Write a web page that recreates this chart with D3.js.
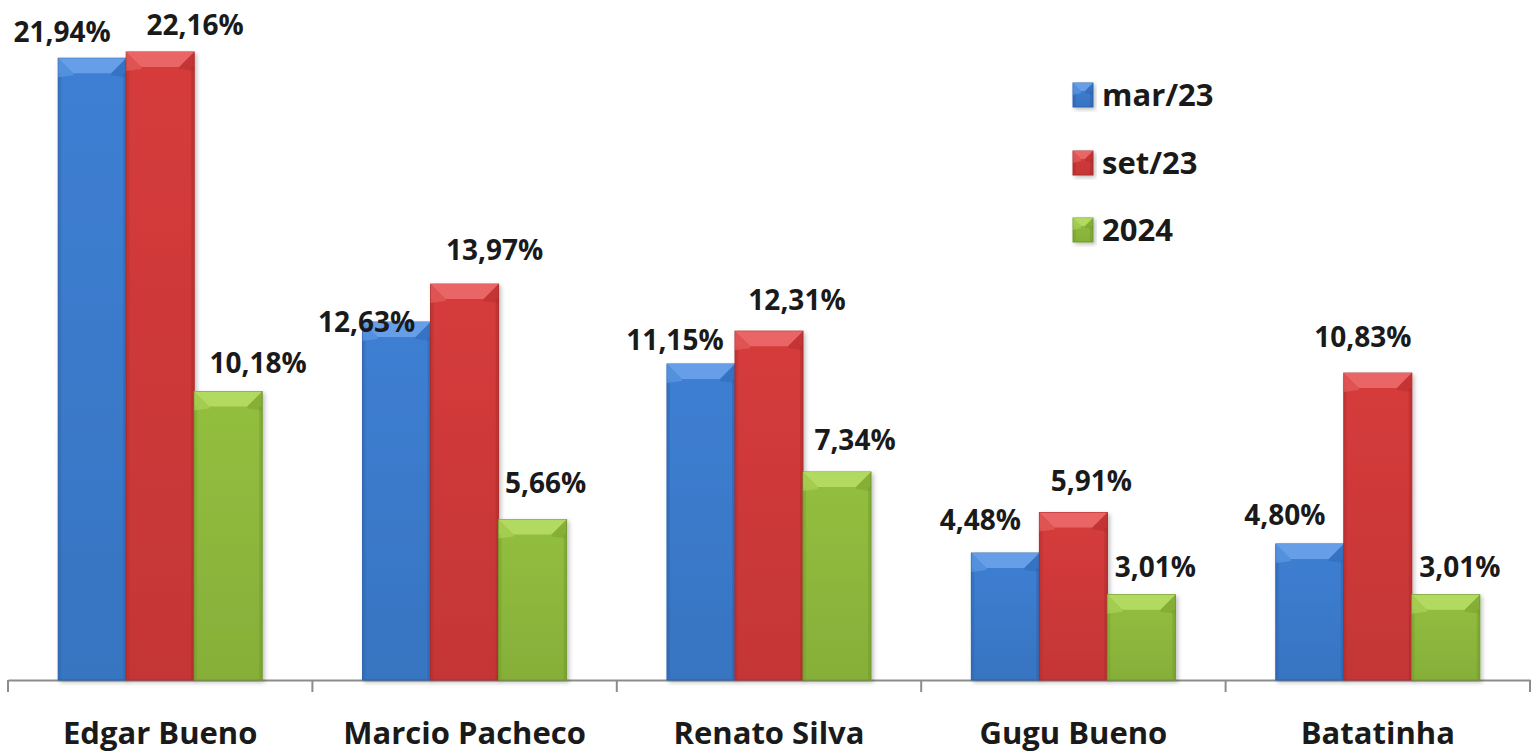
<!DOCTYPE html>
<html>
<head>
<meta charset="utf-8">
<script src="https://cdn.jsdelivr.net/npm/d3@7"></script>
<style>
  body { margin: 0; background: #fff; }
  svg { display: block; font-family: "Open Sans", sans-serif; font-weight: bold; }
</style>
</head>
<body>
<div id="chart"></div>
<script>
// values
const categories = ["Edgar Bueno", "Marcio Pacheco", "Renato Silva", "Gugu Bueno", "Batatinha"];
const seriesNames = ["mar/23", "set/23", "2024"];
const mar23 = [21.94, 12.63, 11.15, 4.48, 4.80];
const set23 = [22.16, 13.97, 12.31, 5.91, 10.83];
const y2024 = [10.18, 5.66, 7.34, 3.01, 3.01];

const colors = ["#3d7fd3", "#d63b3b", "#93bf3e"];
const darkColors = ["#2a62ad", "#ad2b2b", "#72992c"];
const lightColors = ["#6aa3ea", "#ec6b6b", "#b6dc64"];

// manual label nudges (dx, dy of text centre from bar top centre), like the original
const labelShift = [
    [[-30, -26], [35, -27], [30, -29]],
    [[-30, 0], [30, -34], [13, -37]],
    [[-26, -24], [28, -31], [18, -32]],
    [[-25, -33], [18, -32], [14, -28]],
    [[-25, -29], [-15, -36], [14, -28]]
];

const pageWidth = 1532;
const pageHeight = 756;
const baseY = 680;

const allValues = [mar23, set23, y2024];
const data = categories.map((c, i) => ({
    cat: c,
    vals: seriesNames.map((s, j) => ({ s: s, j: j, i: i, v: allValues[j][i] }))
}));

const fmt = v => d3.format(".2f")(v).replace(".", ",") + "%";

const svg = d3.select("#chart").append("svg")
    .attr("width", pageWidth)
    .attr("height", pageHeight);

const defs = svg.append("defs");
colors.forEach((c, j) => {
    const g = defs.append("linearGradient")
        .attr("id", "grad" + j)
        .attr("x1", 0).attr("y1", 0).attr("x2", 0).attr("y2", 1);
    g.append("stop").attr("offset", "0%").attr("stop-color", c);
    g.append("stop").attr("offset", "100%").attr("stop-color", d3.color(c).darker(0.25));
});
const shadow = defs.append("filter").attr("id", "shadow")
    .attr("x", "-10%").attr("y", "-10%").attr("width", "130%").attr("height", "130%");
shadow.append("feDropShadow")
    .attr("dx", 2).attr("dy", 2).attr("stdDeviation", 2)
    .attr("flood-color", "#000").attr("flood-opacity", 0.25);

const x0 = d3.scaleBand()
    .domain(categories)
    .range([8, 1530]);

const x1 = d3.scaleBand()
    .domain(seriesNames)
    .range([0, x0.bandwidth()])
    .paddingOuter(0.738);

const y = d3.scaleLinear()
    .domain([0, 22.16])
    .range([baseY, 52]);

// axis
const xAxis = g => g
    .attr("transform", "translate(0," + baseY + ")")
    .call(d3.axisBottom(x0).tickSize(0).tickFormat(""))
    .call(g => g.select(".domain").attr("stroke", "#8c8c8c").attr("stroke-width", 2));

svg.append("g").attr("class", "x-axis").call(xAxis);

const bounds = categories.map(c => x0(c)).concat([x0.range()[1]]);
svg.append("g").selectAll("line")
    .data(bounds)
    .enter().append("line")
    .attr("x1", d => d).attr("x2", d => d)
    .attr("y1", baseY).attr("y2", baseY + 12)
    .attr("stroke", "#8c8c8c")
    .attr("stroke-width", 2);

svg.append("g").selectAll("text")
    .data(categories)
    .enter().append("text")
    .attr("x", d => x0(d) + x0.bandwidth() / 2)
    .attr("y", 744)
    .attr("text-anchor", "middle")
    .attr("font-size", 31)
    .attr("fill", "#1a1a1a")
    .text(d => d);

function bevelBar(g, x, top, w, h, j, b) {
    g.append("rect")
        .attr("x", x).attr("y", top)
        .attr("width", w).attr("height", h)
        .attr("fill", "url(#grad" + j + ")")
        .attr("stroke", darkColors[j])
        .attr("stroke-width", 1)
        .attr("filter", "url(#shadow)");
    // left / right darker edges
    g.append("rect").attr("x", x).attr("y", top + b).attr("width", 3).attr("height", Math.max(0, h - b))
        .attr("fill", darkColors[j]).attr("opacity", 0.35);
    g.append("rect").attr("x", x + w - 3).attr("y", top + b).attr("width", 3).attr("height", Math.max(0, h - b))
        .attr("fill", darkColors[j]).attr("opacity", 0.45);
    // top bevel
    g.append("polygon")
        .attr("points", [[x, top], [x + w, top], [x + w - b, top + b], [x + b, top + b]].map(p => p.join(",")).join(" "))
        .attr("fill", lightColors[j])
        .attr("opacity", 0.9);
    g.append("polygon")
        .attr("points", [[x, top], [x + b, top + b], [x + b, top + b + 2], [x, top + b + 4]].map(p => p.join(",")).join(" "))
        .attr("fill", lightColors[j]).attr("opacity", 0.5);
    g.append("polygon")
        .attr("points", [[x + w, top], [x + w - b, top + b], [x + w - b, top + b + 2], [x + w, top + b + 4]].map(p => p.join(",")).join(" "))
        .attr("fill", darkColors[j]).attr("opacity", 0.4);
}

const groups = svg.append("g").selectAll("g")
    .data(data)
    .enter().append("g")
    .attr("transform", d => "translate(" + x0(d.cat) + ",0)");

groups.each(function(d) {
    const g = d3.select(this);
    d.vals.forEach(v => {
        const bx = x1(v.s);
        const top = y(v.v);
        bevelBar(g, bx, top, x1.bandwidth(), baseY - top, v.j, 15);
    });
});

// value labels
groups.selectAll(".label")
    .data(d => d.vals)
    .enter().append("text")
    .attr("class", "label")
    .attr("x", v => x1(v.s) + x1.bandwidth() / 2 + labelShift[v.i][v.j][0])
    .attr("y", v => y(v.v) + labelShift[v.i][v.j][1] + 10)
    .attr("text-anchor", "middle")
    .attr("font-size", 28)
    .attr("fill", "#1a1a1a")
    .text(v => fmt(v.v));

// legend
const legend = svg.append("g").attr("transform", "translate(1073,0)");
const legendY = [95, 163, 230];
seriesNames.forEach((s, j) => {
    const lg = legend.append("g");
    bevelBar(lg, 0, legendY[j] - 12, 20, 24, j, 8);
    lg.append("text")
        .attr("x", 29)
        .attr("y", legendY[j] + 11)
        .attr("font-size", 31)
        .attr("fill", "#1a1a1a")
        .text(s);
});
</script>
</body>
</html>
